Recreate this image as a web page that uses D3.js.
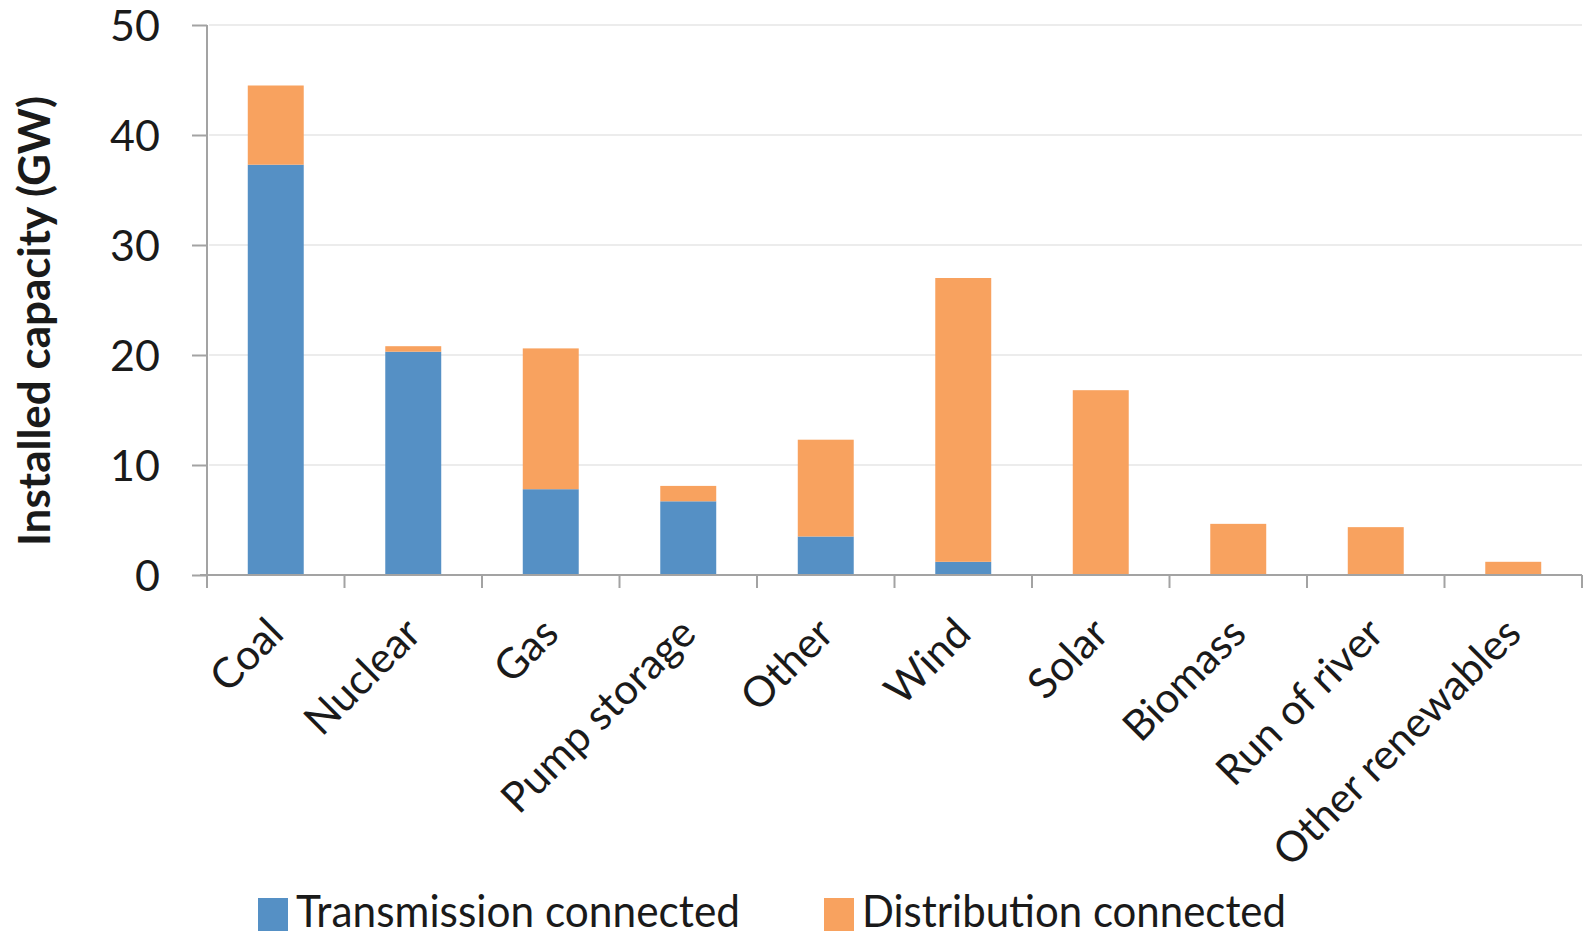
<!DOCTYPE html>
<html>
<head>
<meta charset="utf-8">
<script src="https://cdn.jsdelivr.net/npm/d3@7"></script>
<style>
  body { margin: 0; background: #fff; }
  text { font-family: Lato, "Open Sans", sans-serif; fill: #1a1a1a; }
</style>
</head>
<body>
<div id="chart"></div>
<script>

const categories = ["Coal", "Nuclear", "Gas", "Pump storage", "Other", "Wind", "Solar", "Biomass", "Run of river", "Other renewables"] ;
const transmission = [37.3, 20.3, 7.8, 6.7, 3.5, 1.2, 0, 0, 0, 0] ;
const distribution = [7.2, 0.5, 12.8, 1.4, 8.8, 25.8, 16.8, 4.65, 4.35, 1.2] ;
const seriesNames = ["Transmission connected", "Distribution connected"] ;
const yTicks = [0, 10, 20, 30, 40, 50] ;

const width = 1585 ;
const height = 935 ;
const colors = ["#5590c5", "#f8a25f"] ;

const svg = d3.select("#chart").append("svg")
	.attr("width", width)
	.attr("height", height) ;

const x = d3.scaleBand()
	.domain(categories)
	.range([207, 1582])
	.paddingInner(0.593)
	.paddingOuter(0.2965) ;

const y = d3.scaleLinear()
	.domain([0, 50])
	.range([575, 25]) ;

// gridlines
svg.append("g")
	.selectAll("line")
	.data(yTicks.filter(d => d > 0))
	.enter()
		.append("line")
			.attr("x1", 209).attr("x2", 1582)
			.attr("y1", d => y(d)).attr("y2", d => y(d))
			.attr("stroke", "#ececec")
			.attr("stroke-width", 2) ;

// stacked bars
const rows = categories.map((c, i) => ({ cat: c, t: transmission[i], d: distribution[i] })) ;
const stacked = d3.stack().keys(["t", "d"])(rows) ;

svg.append("g")
	.selectAll("g")
	.data(stacked)
	.enter()
		.append("g")
			.attr("fill", (d, i) => colors[i])
		.selectAll("rect")
		.data(d => d)
		.enter()
			.append("rect")
				.attr("x", d => x(d.data.cat))
				.attr("width", x.bandwidth())
				.attr("y", d => y(d[1]))
				.attr("height", d => y(d[0]) - y(d[1])) ;

// y axis
const yAxis = svg.append("g")
	.attr("transform", "translate(207,0)")
	.call(d3.axisLeft(y).tickValues(yTicks).tickSize(15).tickPadding(32)) ;
yAxis.select(".domain").remove() ;
yAxis.selectAll("line").attr("stroke", "#a3a3a3").attr("stroke-width", 2) ;
yAxis.selectAll("text")
	.style("font-family", "Lato, sans-serif")
	.style("font-size", "43px")
	.attr("dy", "0.36em")
	.attr("fill", "#1a1a1a") ;

svg.append("line")
	.attr("x1", 207).attr("x2", 207)
	.attr("y1", 25).attr("y2", 588)
	.attr("stroke", "#a3a3a3").attr("stroke-width", 2) ;

// x axis with ticks between categories
const step = x.step() ;
svg.append("line")
	.attr("x1", 200).attr("x2", 1582)
	.attr("y1", 575).attr("y2", 575)
	.attr("stroke", "#a3a3a3").attr("stroke-width", 2) ;

svg.append("g")
	.selectAll("line")
	.data(d3.range(categories.length + 1))
	.enter()
		.append("line")
			.attr("x1", i => 207 + i * step).attr("x2", i => 207 + i * step)
			.attr("y1", 575).attr("y2", 588)
			.attr("stroke", "#a3a3a3").attr("stroke-width", 2) ;

svg.append("g")
	.selectAll("text")
	.data(categories)
	.enter()
		.append("text")
			.attr("text-anchor", "end")
			.attr("transform", d => "translate(" + (x(d) + x.bandwidth() / 2 + 10) + ",636) rotate(-45)")
			.style("font-size", "42px")
			.text(d => d) ;

// y title
svg.append("text")
	.attr("transform", "translate(50,321) rotate(-90)")
	.attr("text-anchor", "middle")
	.style("font-size", "44px")
	.style("font-weight", "bold")
	.text("Installed capacity (GW)") ;

// legend
const legendX = [258, 824] ;
const legendW = [444, 424] ;
const legend = svg.append("g")
	.selectAll("g")
	.data(seriesNames)
	.enter()
		.append("g")
			.attr("transform", (d, i) => "translate(" + legendX[i] + ",0)") ;

legend.append("rect")
	.attr("x", 0).attr("y", 898)
	.attr("width", 30).attr("height", 33)
	.attr("fill", (d, i) => colors[i]) ;

legend.append("text")
	.attr("x", 38).attr("y", 927)
	.attr("textLength", (d, i) => legendW[i])
	.attr("lengthAdjust", "spacingAndGlyphs")
	.style("font-size", "44px")
	.text(d => d) ;

</script>
</body>
</html>
